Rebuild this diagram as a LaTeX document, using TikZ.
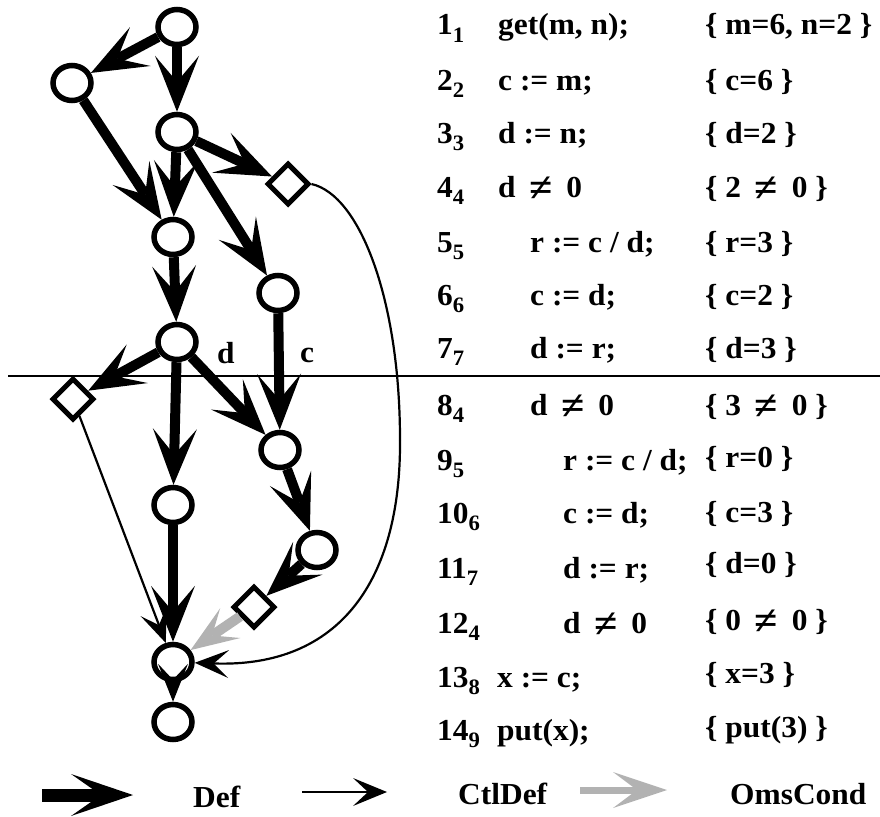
\documentclass[tikz,border=0pt]{standalone}
\usepackage{fontspec}
\usepackage{graphicx}
\setmainfont{Liberation Serif}[FakeStretch=1.03]
\usetikzlibrary{arrows.meta,shapes.geometric}
\newcommand\sbs[1]{\raisebox{-7pt}{\fontsize{22}{22}\selectfont #1}}
\newcommand\neqsp{\hspace{0.45em}\raisebox{-4.5pt}{\scalebox{1.35}{≠}}\hspace{0.45em}}
\begin{document}
\begin{tikzpicture}[x=1pt,y=-1pt,
  font=\fontsize{30.5}{32}\selectfont\bfseries,
  circ/.style={ellipse, draw, line width=5.5pt, minimum width=38pt, minimum height=35pt, inner sep=0pt, fill=white},
  dia/.style={diamond, draw, line width=5pt, minimum width=42pt, minimum height=42pt, inner sep=0pt, aspect=1, fill=white},
  defa/.style={line width=10pt, -{Stealth[length=56pt,width=44pt,inset=26pt,line width=0pt]}},
  defs/.style={line width=9pt, -{Stealth[length=38pt,width=30pt,inset=16pt,line width=0pt]}},
  ctla/.style={line width=2.2pt, -{Stealth[length=34pt,width=28pt,inset=15pt,line width=0pt]}},
  omsa/.style={line width=10pt, draw=gray!60, -{Stealth[length=48pt,width=36pt,inset=22pt,line width=0pt,fill=gray!60]}},
  txt/.style={anchor=base west, inner sep=0pt}]
\useasboundingbox (0,0) rectangle (880,816);

% graph nodes
\node[circ] (n1) at (177,27) {};
\node[circ] (n2) at (72,83) {};
\node[circ] (n3) at (177,132) {};
\node[dia]  (n4) at (288,184) {};
\node[circ] (n5) at (173,237) {};
\node[circ] (n6) at (278,293) {};
\node[circ] (n7) at (177,342) {};
\node[dia]  (n8) at (73,399) {};
\node[circ] (n9) at (280,450) {};
\node[circ] (n10) at (173,505) {};
\node[circ] (n11) at (317,550) {};
\node[dia]  (n12) at (254,607) {};
\node[circ] (n13) at (173,662) {};
\node[circ] (n14) at (173,722) {};

% separator
\coordinate (hl) at (8,376);
\coordinate (hr) at (880,376);
\draw[line width=1.8pt] (hl) -- (hr);

% Def edges
\draw[defa] (n1) -- (n2);
\draw[defa] (n1) -- (n3);
\draw[defa] (n2) -- (n5);
\draw[defa] (n3) -- (n5);
\draw[defa] (n3) -- (n4);
\draw[defa] (n3) -- (n6);
\draw[defa] (n5) -- (n7);
\draw[defa] (n6) -- (n9);
\draw[defa] (n7) -- (n8);
\draw[defa] (n7) -- (n10);
\draw[defa] (n7) -- (n9);
\draw[defa] (n10) -- (n13);
\draw[defa] (n9) -- (n11);
\draw[defa] (n11) -- (n12);
\draw[defs] (n13) -- (n14);

% CtlDef edges
\draw[ctla] (n8) -- (n13);
\coordinate (c1) at (400,440);
\draw[line width=2.2pt] (n4.east) .. controls (360,195) and (400,300) .. (c1);
\draw[ctla] (c1) .. controls (401,580) and (340,668) .. (n13);

% OmsCond edge
\draw[omsa] (n12) -- (n13);

% edge labels
\node[txt] (ld) at (217,363) {d};
\node[txt] (lc) at (300,362) {c};

% table
\node[txt] (l1) at (437,35) {1\sbs{1}};
\node[txt] (s1) at (498,35) {get(m, n);};
\node[txt] (v1) at (705,35) {\{ m=6, n=2 \}};
\node[txt] (l2) at (437,90) {2\sbs{2}};
\node[txt] (s2) at (498,90) {c := m;};
\node[txt] (v2) at (705,90) {\{ c=6 \}};
\node[txt] (l3) at (437,143) {3\sbs{3}};
\node[txt] (s3) at (498,143) {d := n;};
\node[txt] (v3) at (705,143) {\{ d=2 \}};
\node[txt] (l4) at (437,197) {4\sbs{4}};
\node[txt] (s4) at (498,197) {d\neqsp 0};
\node[txt] (v4) at (705,197) {\{ 2\neqsp 0 \}};
\node[txt] (l5) at (437,252) {5\sbs{5}};
\node[txt] (s5) at (530,252) {r := c / d;};
\node[txt] (v5) at (705,252) {\{ r=3 \}};
\node[txt] (l6) at (437,305) {6\sbs{6}};
\node[txt] (s6) at (530,305) {c := d;};
\node[txt] (v6) at (705,305) {\{ c=2 \}};
\node[txt] (l7) at (437,358) {7\sbs{7}};
\node[txt] (s7) at (530,358) {d := r;};
\node[txt] (v7) at (705,358) {\{ d=3 \}};
\node[txt] (l8) at (437,415) {8\sbs{4}};
\node[txt] (s8) at (530,415) {d\neqsp 0};
\node[txt] (v8) at (705,415) {\{ 3\neqsp 0 \}};
\node[txt] (l9) at (437,470) {9\sbs{5}};
\node[txt] (s9) at (563,470) {r := c / d;};
\node[txt] (v9) at (705,467) {\{ r=0 \}};
\node[txt] (l10) at (437,523) {10\sbs{6}};
\node[txt] (s10) at (563,523) {c := d;};
\node[txt] (v10) at (705,522) {\{ c=3 \}};
\node[txt] (l11) at (437,578) {11\sbs{7}};
\node[txt] (s11) at (563,578) {d := r;};
\node[txt] (v11) at (705,573) {\{ d=0 \}};
\node[txt] (l12) at (437,633) {12\sbs{4}};
\node[txt] (s12) at (563,633) {d\neqsp 0};
\node[txt] (v12) at (705,630) {\{ 0\neqsp 0 \}};
\node[txt] (l13) at (437,687) {13\sbs{8}};
\node[txt] (s13) at (497,687) {x := c;};
\node[txt] (v13) at (705,683) {\{ x=3 \}};
\node[txt] (l14) at (437,740) {14\sbs{9}};
\node[txt] (s14) at (497,740) {put(x);};
\node[txt] (v14) at (705,737) {\{ put(3) \}};

% legend
\coordinate (a1s) at (42,795);
\coordinate (a1e) at (133,795);
\draw[line width=13pt, -{Stealth[length=62pt,width=42pt,inset=30pt,line width=0pt]}] (a1s) -- (a1e);
\node[txt] (tdef) at (193,807) {Def};
\coordinate (a2s) at (302,792);
\coordinate (a2e) at (387,792);
\draw[ctla] (a2s) -- (a2e);
\node[txt] (tctl) at (458,804) {CtlDef};
\coordinate (a3s) at (580,790);
\coordinate (a3e) at (667,790);
\draw[line width=7pt, draw=gray!60, -{Stealth[length=54pt,width=36pt,inset=24pt,line width=0pt,fill=gray!60]}] (a3s) -- (a3e);
\node[txt] (toms) at (730,804) {OmsCond};
\end{tikzpicture}
\end{document}
